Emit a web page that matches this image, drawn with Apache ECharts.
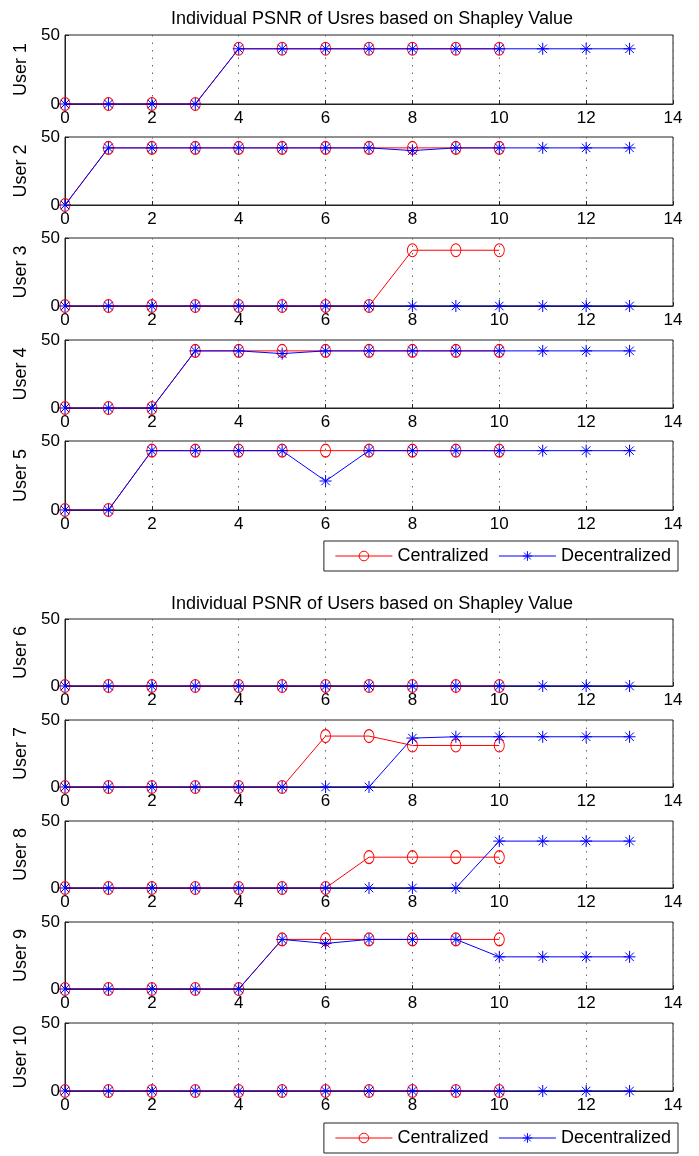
<!DOCTYPE html>
<html>
<head>
<meta charset="utf-8">
<script src="https://cdn.jsdelivr.net/npm/echarts@6/dist/echarts.min.js"></script>
<style>
html,body{margin:0;padding:0;background:#fff;}
#chart{width:699px;height:1156px;}
</style>
</head>
<body>
<div id="chart"></div>
<script>
// ---- Data ----
const title1 = 'Individual PSNR of Usres based on Shapley Value';
const title2 = 'Individual PSNR of Users based on Shapley Value';
const seriesNames = ['Centralized', 'Decentralized'];
const userLabels = ['User 1','User 2','User 3','User 4','User 5','User 6','User 7','User 8','User 9','User 10'];
const stepsC = [0,1,2,3,4,5,6,7,8,9,10];
const stepsD = [0,1,2,3,4,5,6,7,8,9,10,11,12,13];
const xTicks = [0,2,4,6,8,10,12,14];
const yTicks = [0,50];

const user1C = [0,0,0,0,40,40,40,40,40,40,40];
const user1D = [0,0,0,0,40,40,40,40,40,40,40,40,40,40];
const user2C = [0,42,42,42,42,42,42,42,42,42,42];
const user2D = [0,42,42,42,42,42,42,42,40,42,42,42,42,42];
const user3C = [0,0,0,0,0,0,0,0,41,41,41];
const user3D = [0,0,0,0,0,0,0,0,0,0,0,0,0,0];
const user4C = [0,0,0,42,42,42,42,42,42,42,42];
const user4D = [0,0,0,42,42,40,42,42,42,42,42,42,42,42];
const user5C = [0,0,43,43,43,43,43,43,43,43,43];
const user5D = [0,0,43,43,43,43,21,43,43,43,43,43,43,43];
const user6C = [0,0,0,0,0,0,0,0,0,0,0];
const user6D = [0,0,0,0,0,0,0,0,0,0,0,0,0,0];
const user7C = [0,0,0,0,0,0,38,38,31,31,31];
const user7D = [0,0,0,0,0,0,0,0,36.5,37.5,37.5,37.5,37.5,37.5];
const user8C = [0,0,0,0,0,0,0,23,23,23,23];
const user8D = [0,0,0,0,0,0,0,0,0,0,35,35,35,35];
const user9C = [0,0,0,0,0,37,37,37,37,37,37];
const user9D = [0,0,0,0,0,37,34,37,37,37,24,24,24,24];
const user10C = [0,0,0,0,0,0,0,0,0,0,0];
const user10D = [0,0,0,0,0,0,0,0,0,0,0,0,0,0];

const centralized = [user1C,user2C,user3C,user4C,user5C,user6C,user7C,user8C,user9C,user10C];
const decentralized = [user1D,user2D,user3D,user4D,user5D,user6D,user7D,user8D,user9D,user10D];

// ---- Layout ----
const gridTops = [35,137,238,340,441,619,720,821,922,1023];
const gridHeights = [69,68,68,68,69,67,67,67,67,68];
const LEFT = 65, RIGHT = 26;
const FONT = 'Liberation Sans, Arial, sans-serif';
const asterisk = 'path://M0,-10L0,10M-10,0L10,0M-7.07,-7.07L7.07,7.07M-7.07,7.07L7.07,-7.07';

const grids = [], xAxes = [], yAxes = [], series = [];
for (let i = 0; i < 10; i++) {
  grids.push({left: LEFT, right: RIGHT, top: gridTops[i], height: gridHeights[i],
    show: true, borderColor: '#222', borderWidth: 1, backgroundColor: '#fff'});
  xAxes.push({type: 'value', gridIndex: i, min: xTicks[0], max: xTicks[xTicks.length-1], interval: xTicks[1]-xTicks[0],
    axisLine: {show: true, onZero: false, lineStyle: {color: '#222', width: 1}},
    axisTick: {show: true, inside: true, length: 4, lineStyle: {color: '#222'}},
    axisLabel: {color: '#000', fontSize: 17, fontFamily: FONT, margin: 6},
    splitLine: {show: true, lineStyle: {color: '#666', type: [1.5, 6], width: 1}}});
  yAxes.push({type: 'value', gridIndex: i, min: yTicks[0], max: yTicks[1], interval: yTicks[1]-yTicks[0],
    name: userLabels[i], nameLocation: 'middle', nameGap: 35, nameRotate: 90,
    nameTextStyle: {color: '#000', fontSize: 18, fontFamily: FONT},
    axisLine: {show: true, lineStyle: {color: '#222', width: 1}},
    axisTick: {show: true, inside: true, length: 4, lineStyle: {color: '#222'}},
    axisLabel: {color: '#000', fontSize: 17, fontFamily: FONT, margin: 5},
    splitLine: {show: false}});
  series.push({name: seriesNames[0], type: 'line', xAxisIndex: i, yAxisIndex: i,
    data: centralized[i].map((v, k) => [stepsC[k], v]),
    symbol: 'circle', symbolSize: [10, 13], showAllSymbol: true,
    lineStyle: {color: '#ff0000', width: 1},
    itemStyle: {color: 'rgba(255,255,255,0)', borderColor: '#ff0000', borderWidth: 1},
    emphasis: {disabled: true}, animation: false, z: 2});
  series.push({name: seriesNames[1], type: 'line', xAxisIndex: i, yAxisIndex: i,
    data: decentralized[i].map((v, k) => [stepsD[k], v]),
    symbol: asterisk, symbolSize: 12, showAllSymbol: true,
    lineStyle: {color: '#0000ff', width: 1},
    itemStyle: {color: 'rgba(0,0,255,0)', borderColor: '#0000ff', borderWidth: 1},
    emphasis: {disabled: true}, animation: false, z: 3});
}

const legendBase = {
  data: seriesNames, right: 21, orient: 'horizontal',
  backgroundColor: '#fff', borderColor: '#222', borderWidth: 1,
  padding: [6, 7, 6, 11], itemWidth: 57, itemHeight: 12, itemGap: 10,
  lineStyle: {width: 1},
  itemStyle: {borderWidth: 1},
  textStyle: {color: '#000', fontSize: 18, fontFamily: FONT}, selectedMode: false
};

const option = {
  animation: false,
  backgroundColor: '#fff',
  title: [
    {text: title1, left: 367, textAlign: 'center', top: 5,
      textStyle: {color: '#000', fontSize: 18, fontWeight: 'normal', fontFamily: FONT}},
    {text: title2, left: 367, textAlign: 'center', top: 590,
      textStyle: {color: '#000', fontSize: 18, fontWeight: 'normal', fontFamily: FONT}}
  ],
  legend: [Object.assign({}, legendBase, {top: 541}), Object.assign({}, legendBase, {top: 1123})],
  grid: grids, xAxis: xAxes, yAxis: yAxes, series: series
};

const chart = echarts.init(document.getElementById('chart'), null, {renderer: 'canvas'});
chart.setOption(option);
</script>
</body>
</html>
